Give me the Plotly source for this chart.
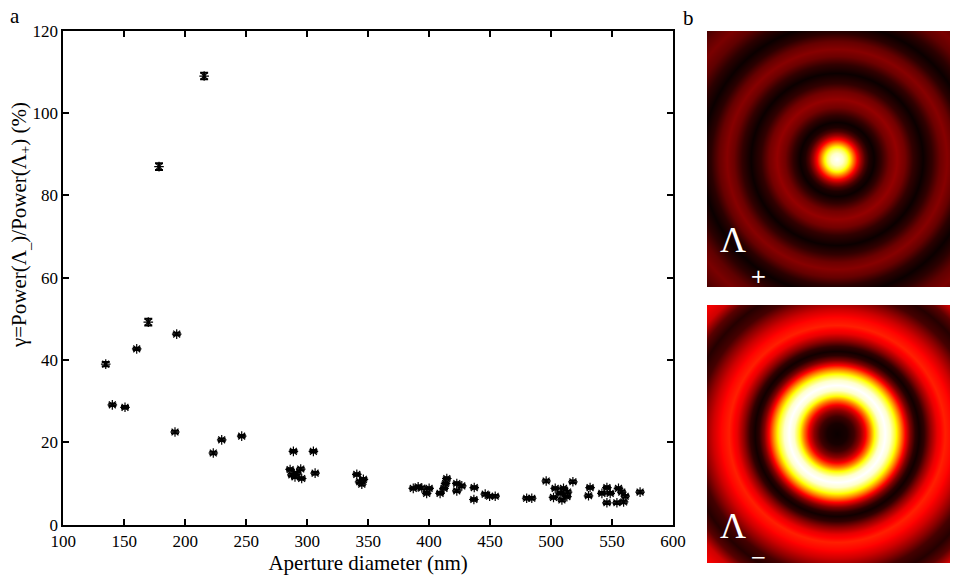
import numpy as np
import plotly.graph_objects as go

# ---------------- Panel a data ----------------
aperture_nm = [
    134.8, 140.2, 150.6, 160.2, 169.7, 178.5, 191.6, 193.0, 215.5, 223.0, 229.9, 246.3,
    288.7, 305.1, 286.0, 294.7, 287.4, 291.5, 295.5, 290.0, 306.5,
    340.7, 343.0, 344.8, 346.1,
    387.0, 391.0, 394.0, 398.0, 400.0, 409.0, 412.2, 413.5, 414.5, 422.7, 426.8, 422.7,
    437.0, 436.7, 446.0, 449.6, 454.2,
    480.0, 484.2, 496.0, 503.4, 510.2, 507.5, 502.0, 508.9, 513.0, 513.5, 517.9,
    532.0, 530.7, 545.8, 541.7, 548.5, 555.3, 558.0, 560.8, 545.8, 554.0, 559.5, 573.0,
]
gamma_pct = [
    39.0, 29.1, 28.5, 42.7, 49.2, 87.0, 22.5, 46.3, 109.0, 17.4, 20.6, 21.5,
    17.8, 17.8, 13.4, 13.5, 12.1, 12.5, 11.2, 11.6, 12.5,
    12.2, 10.4, 9.8, 11.0,
    8.8, 9.2, 8.9, 7.6, 8.8, 7.6, 8.8, 10.0, 11.2, 10.0, 9.4, 8.2,
    9.0, 6.1, 7.4, 6.9, 6.9,
    6.4, 6.4, 10.6, 8.8, 8.8, 7.6, 6.6, 6.0, 6.8, 7.9, 10.4,
    9.0, 7.0, 9.0, 7.6, 7.6, 8.8, 7.9, 6.9, 5.3, 5.3, 5.5, 7.9,
]
gamma_err = [
    0.5, 0.3, 0.3, 0.3, 0.8, 0.8, 0.3, 0.3, 0.8, 0.3, 0.3, 0.3,
    0.3, 0.3, 0.3, 0.3, 0.3, 0.3, 0.3, 0.3, 0.3,
    0.3, 0.3, 0.3, 0.3,
    0.3, 0.3, 0.3, 0.3, 0.3, 0.3, 0.3, 0.3, 0.3, 0.3, 0.3, 0.3,
    0.3, 0.3, 0.3, 0.3, 0.3,
    0.3, 0.3, 0.3, 0.3, 0.3, 0.3, 0.3, 0.3, 0.3, 0.3, 0.3,
    0.3, 0.3, 0.3, 0.3, 0.3, 0.3, 0.3, 0.3, 0.3, 0.3, 0.3, 0.3,
]
x_ticks = [100, 150, 200, 250, 300, 350, 400, 450, 500, 550, 600]
y_ticks = [0, 20, 40, 60, 80, 100, 120]

# ---------------- Panel b radial intensity profiles ----------------
plus_radius_px = [0, 6, 10, 13, 17, 20, 24, 28, 32, 37, 44, 52, 60, 68, 76, 86, 95, 103,
                  110, 118, 126, 135, 145, 155, 165, 175, 190]
plus_intensity = [1.0, 0.95, 0.85, 0.72, 0.52, 0.38, 0.22, 0.10, 0.03, 0.0, 0.06, 0.16,
                  0.21, 0.16, 0.06, 0.0, 0.06, 0.15, 0.19, 0.14, 0.05, 0.0, 0.05, 0.13,
                  0.17, 0.13, 0.05]
minus_radius_px = [0, 10, 17, 23, 28, 33, 38, 43, 48, 53, 58, 63, 68, 73, 78, 82, 87, 93,
                   100, 108, 116, 124, 132, 140, 150, 160, 170, 180, 190]
minus_intensity = [0.0, 0.02, 0.08, 0.2, 0.35, 0.55, 0.78, 0.95, 1.0, 0.95, 0.8, 0.6, 0.38,
                   0.18, 0.05, 0.01, 0.06, 0.2, 0.34, 0.42, 0.38, 0.30, 0.20, 0.09, 0.04,
                   0.12, 0.3, 0.36, 0.3]

hot = [[0.0, "#0b0000"], [0.375, "#ff0000"], [0.75, "#ffff00"], [1.0, "#ffffff"]]

W, H = 958, 575
FONT = "Liberation Serif"
OFF = 8  # page body margin offset

def px_x(v):
    return (v - OFF) / W

def px_y(v):
    return 1 - (v - OFF) / H

fig = go.Figure()

fig.add_trace(go.Scatter(
    x=aperture_nm, y=gamma_pct, mode="markers",
    marker=dict(symbol="asterisk-open", size=8, color="black",
                line=dict(color="black", width=1.2)),
    error_y=dict(type="data", array=gamma_err, visible=True, color="black",
                 thickness=2, width=4),
    showlegend=False, hoverinfo="x+y",
))

# heatmaps
center_x = 836.7
half_w = center_x - 707
img_right = (W + OFF) - center_x
grid_x = np.arange(-half_w, half_w + 0.01, 1.0)
grid_y = np.arange(-128.0, 128.01, 1.0)
XX, YY = np.meshgrid(grid_x, grid_y)
RR = np.sqrt(XX ** 2 + YY ** 2)
z_plus = np.interp(RR, plus_radius_px, plus_intensity)
z_minus = np.interp(RR, minus_radius_px, minus_intensity)

fig.add_trace(go.Heatmap(x=grid_x, y=grid_y, z=z_plus, colorscale=hot, zmin=0, zmax=1,
                         showscale=False, hoverinfo="skip", xaxis="x2", yaxis="y2"))
fig.add_trace(go.Heatmap(x=grid_x, y=grid_y, z=z_minus, colorscale=hot, zmin=0, zmax=1,
                         showscale=False, hoverinfo="skip", xaxis="x3", yaxis="y3"))

axis_common = dict(
    showline=True, linecolor="black", linewidth=2, mirror="ticks",
    ticks="inside", ticklen=6, tickwidth=2, tickcolor="black",
    showgrid=False, zeroline=False, automargin=False,
    tickfont=dict(family=FONT, size=17, color="black"),
)

fig.update_layout(
    width=W, height=H,
    margin=dict(l=0, r=0, t=0, b=0, autoexpand=False),
    paper_bgcolor="white", plot_bgcolor="white",
    font=dict(family=FONT, color="black"),
    xaxis=dict(domain=[px_x(63.3), px_x(673)], range=[100, 600], tickvals=x_ticks,
               title=dict(text="Aperture diameter (nm)", font=dict(family=FONT, size=21),
                          standoff=2),
               **axis_common),
    yaxis=dict(domain=[px_y(524.6), px_y(30.8)], range=[0, 120], tickvals=y_ticks,
               **axis_common),
    xaxis2=dict(domain=[px_x(707), 1.0], range=[-half_w, img_right], visible=False,
                anchor="y2"),
    yaxis2=dict(domain=[px_y(287), px_y(31)], range=[-128, 128], visible=False,
                anchor="x2"),
    xaxis3=dict(domain=[px_x(707), 1.0], range=[-half_w, img_right], visible=False,
                anchor="y3"),
    yaxis3=dict(domain=[px_y(563), px_y(305)], range=[-128, 128], visible=False,
                anchor="x3"),
)

# y-axis title (placed as in the reference, above axis centre)
fig.add_annotation(xref="paper", yref="paper", x=px_x(20), y=px_y(225),
                   text="γ=Power(Λ<sub>_</sub>)/Power(Λ<sub>+</sub>) (%)", textangle=-90,
                   xanchor="center", yanchor="middle", showarrow=False,
                   font=dict(family=FONT, size=21, color="black"))

annos = [
    dict(text="a", x=px_x(8), y=px_y(16)),
    dict(text="b", x=px_x(681), y=px_y(18)),
]
for a in annos:
    fig.add_annotation(xref="paper", yref="paper", x=a["x"], y=a["y"], text=a["text"],
                       xanchor="left", yanchor="middle", showarrow=False,
                       font=dict(family=FONT, size=21, color="black"))

# Λ labels on images
for lam_y, sub, sub_y in [(262, "+", 290), (548, "−", 571)]:
    fig.add_annotation(xref="paper", yref="paper", x=px_x(718), y=px_y(lam_y),
                       text="Λ", xanchor="left", yanchor="bottom", showarrow=False,
                       font=dict(family=FONT, size=36, color="white"))
    fig.add_annotation(xref="paper", yref="paper", x=px_x(748), y=px_y(sub_y),
                       text=sub, xanchor="left", yanchor="bottom", showarrow=False,
                       font=dict(family="DejaVu Sans", size=20, color="white"))

fig.write_html("out.html")
